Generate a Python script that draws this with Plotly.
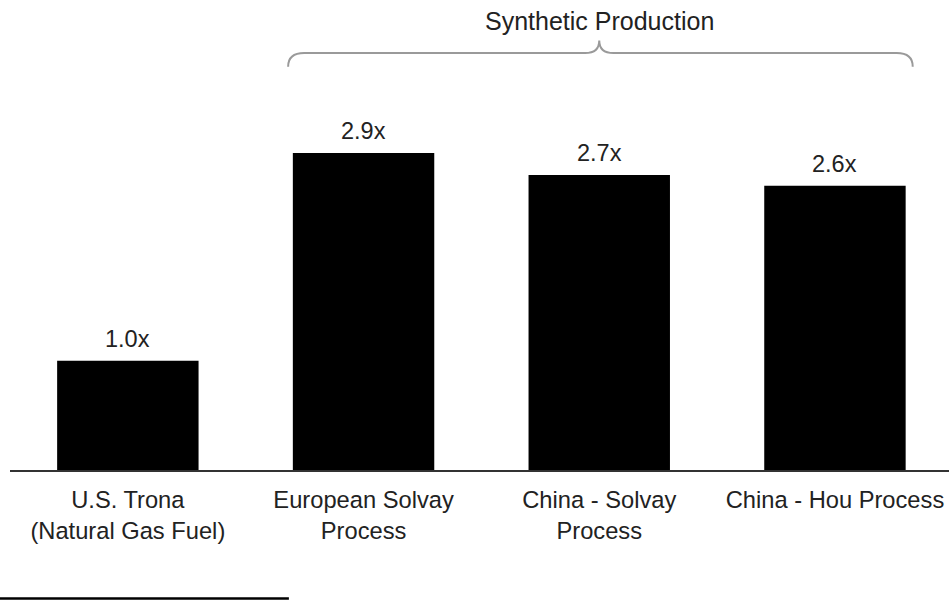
import plotly.graph_objects as go

# Relative energy use of soda ash production routes
categories = [
    "U.S. Trona<br>(Natural Gas Fuel)",
    "European Solvay<br>Process",
    "China - Solvay<br>Process",
    "China - Hou Process",
]
values = [1.0, 2.9, 2.7, 2.6]
value_labels = ["1.0x", "2.9x", "2.7x", "2.6x"]
group_title = "Synthetic Production"
group_members = [1, 2, 3]  # bars covered by the brace

FONT = "Liberation Sans, Arial, Helvetica, sans-serif"
TEXT = "#222222"

positions = list(range(len(categories)))

fig = go.Figure()
fig.add_trace(go.Bar(
    x=positions,
    y=values,
    marker=dict(color="#000000", line=dict(width=0)),
    width=0.6,
    hoverinfo="skip",
))

# value labels above bars
for xi, v, lab in zip(positions, values, value_labels):
    fig.add_annotation(
        x=xi, y=v, text=lab, showarrow=False,
        xanchor="center", yanchor="bottom", yshift=7,
        font=dict(family=FONT, size=23.5, color=TEXT),
    )

# curly brace spanning the synthetic routes
px_per_unit = 109.3
x0 = group_members[0] - 0.32
x1 = group_members[-1] + 0.33
xc = (group_members[0] + group_members[-1]) / 2
y_end = 3.69
y_h = 3.815
y_peak = 3.93
dx = 0.068
dc = 0.06
brace = (
    f"M {x0},{y_end} Q {x0},{y_h} {x0 + dx},{y_h} "
    f"L {xc - dc},{y_h} Q {xc},{y_h} {xc},{y_peak} "
    f"Q {xc},{y_h} {xc + dc},{y_h} "
    f"L {x1 - dx},{y_h} Q {x1},{y_h} {x1},{y_end}"
)
fig.add_shape(type="path", path=brace, xref="x", yref="y",
              line=dict(color="#9a9a9a", width=2))

fig.add_annotation(
    x=xc, y=4.11, text=group_title, showarrow=False,
    xanchor="center", yanchor="middle",
    font=dict(family=FONT, size=25, color=TEXT),
)

# footnote rule at the bottom left
fig.add_shape(type="line", xref="paper", yref="paper",
              x0=-0.0107, x1=0.297, y0=-0.2735, y1=-0.2735,
              line=dict(color="#000000", width=2.5))

fig.update_layout(
    width=949, height=600,
    margin=dict(l=10, r=0, t=0, b=130),
    paper_bgcolor="white", plot_bgcolor="white",
    showlegend=False,
    xaxis=dict(
        range=[-0.5, -0.5 + 939 / 235.7],
        tickvals=positions, ticktext=categories,
        showgrid=False, zeroline=False,
        showline=True, linecolor="#333333", linewidth=2,
        ticks="", ticklabelstandoff=8,
        tickfont=dict(family=FONT, size=23.7, color=TEXT),
    ),
    yaxis=dict(
        range=[0, 470 / px_per_unit],
        visible=False, showgrid=False, zeroline=False,
    ),
)

fig.write_html("out.html")
